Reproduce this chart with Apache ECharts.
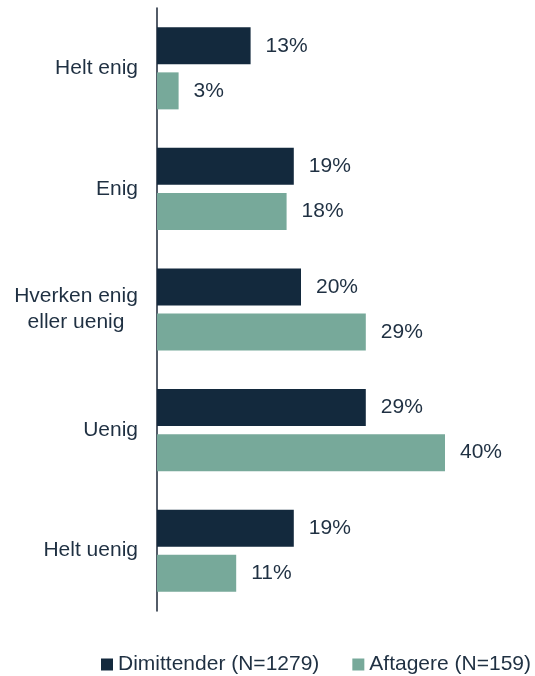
<!DOCTYPE html>
<html>
<head>
<meta charset="utf-8">
<script src="https://cdn.jsdelivr.net/npm/echarts@6/dist/echarts.min.js"></script>
<style>
  html, body { margin: 0; padding: 0; background: #ffffff; }
  #chart { width: 535px; height: 676px; }
</style>
</head>
<body>
<div id="chart"></div>
<script>
// Answer categories, top to bottom
const categories = ['Helt enig', 'Enig', 'Hverken enig\neller uenig', 'Uenig', 'Helt uenig'];
// Share of respondents (%)
const dimittender = [13, 19, 20, 29, 19];
const aftagere = [3, 18, 29, 40, 11];
const seriesNames = ['Dimittender (N=1279)', 'Aftagere (N=159)'];

const textColor = '#1f3042';
const darkColor = '#13293d';
const tealColor = '#77a99a';
const fontFamily = 'Liberation Sans, Arial, sans-serif';

const chart = echarts.init(document.getElementById('chart'));

const valueLabel = {
  show: true,
  position: 'right',
  distance: 15,
  formatter: p => p.value + '%',
  color: textColor,
  fontSize: 21,
  fontFamily: fontFamily
};

chart.setOption({
  animation: false,
  textStyle: { fontFamily: fontFamily },
  grid: { left: 157, right: 18, top: 8, bottom: 65, containLabel: false },
  xAxis: {
    type: 'value',
    min: 0,
    max: 50,
    show: false
  },
  yAxis: {
    type: 'category',
    data: categories,
    inverse: true,
    axisLine: { show: true, lineStyle: { color: '#1a2636', width: 1.5 } },
    axisTick: { show: false },
    splitLine: { show: false },
    axisLabel: {
      margin: 19,
      color: textColor,
      fontSize: 21,
      fontFamily: fontFamily,
      align: 'right',
      lineHeight: 26,
      formatter: function (v) {
        if (v.indexOf('\n') >= 0) {
          return v.split('\n').map(s => '{c|' + s + '}').join('\n');
        }
        return v;
      },
      rich: {
        c: { width: 124, align: 'center', color: textColor, fontSize: 21, fontFamily: fontFamily, lineHeight: 26 }
      }
    }
  },
  legend: {
    orient: 'horizontal',
    left: 101,
    top: 654,
    width: 434,
    padding: 0,
    itemWidth: 12,
    itemHeight: 12,
    itemGap: 33,
    icon: 'rect',
    textStyle: { color: textColor, fontSize: 21, fontFamily: fontFamily },
    data: seriesNames
  },
  series: [
    {
      name: seriesNames[0],
      type: 'bar',
      data: dimittender,
      barWidth: 37,
      barGap: '22%',
      itemStyle: { color: darkColor },
      label: valueLabel
    },
    {
      name: seriesNames[1],
      type: 'bar',
      data: aftagere,
      barWidth: 37,
      barGap: '22%',
      itemStyle: { color: tealColor },
      label: valueLabel
    }
  ]
});
</script>
</body>
</html>
